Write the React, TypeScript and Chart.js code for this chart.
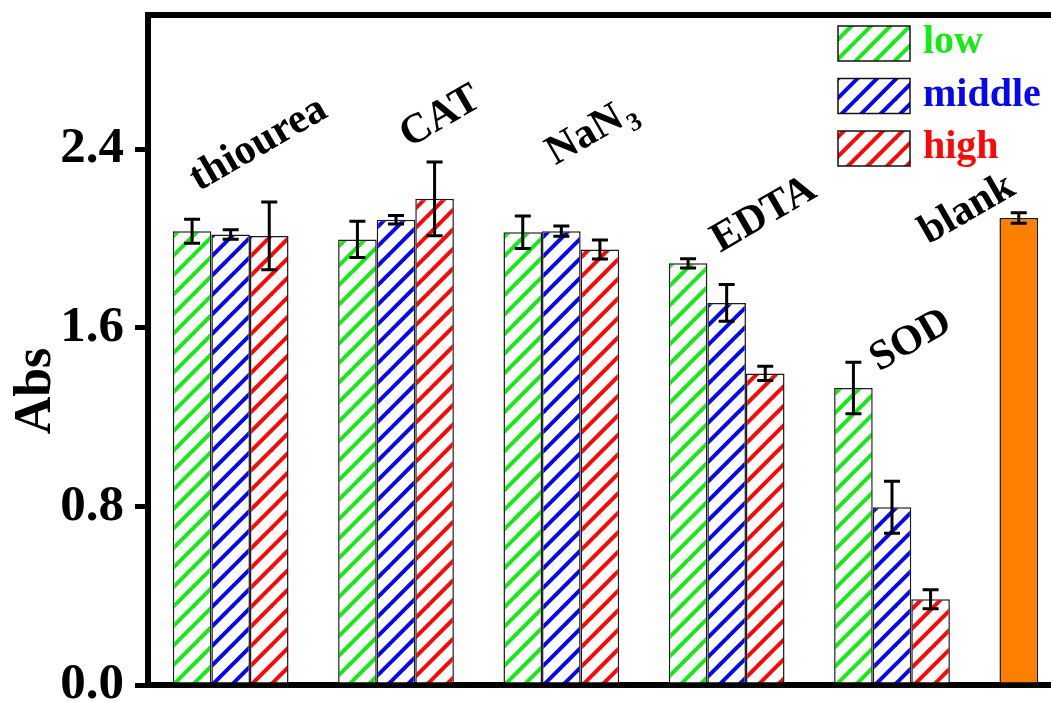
import React, { useEffect, useRef } from 'react';
import { Chart, registerables } from 'chart.js';

Chart.register(...registerables);

// Treatments (scavengers) and the untreated blank
const categories = ['thiourea', 'CAT', 'NaN3', 'EDTA', 'SOD', 'blank'];
const seriesNames = ['low', 'middle', 'high'];

// Absorbance per scavenger dose level, with standard deviations
const lowValues = [2.032, 1.995, 2.027, 1.888, 1.33];
const lowErrors = [0.054, 0.081, 0.073, 0.021, 0.115];
const middleValues = [2.017, 2.083, 2.032, 1.711, 0.796];
const middleErrors = [0.021, 0.019, 0.023, 0.082, 0.116];
const highValues = [2.011, 2.177, 1.95, 1.395, 0.384];
const highErrors = [0.152, 0.165, 0.042, 0.032, 0.043];
const blankValue = 2.091;
const blankError = 0.023;

const yTicks = [0, 0.8, 1.6, 2.4];
const yMax = 3.0;

// Where each rotated treatment name starts: offset from category centre (px), height in Abs units
const labelAnchors = [
  { dx: -32, y: 2.21 },
  { dx: 13, y: 2.405 },
  { dx: -6, y: 2.326 },
  { dx: -6.5, y: 1.936 },
  { dx: -13, y: 1.403 },
  { dx: -129, y: 1.972 },
];

const seriesColors = ['#14ea14', '#0606f0', '#ff0606'];
const blankColor = '#ff8000';
const FONT = '"Liberation Serif", "Times New Roman", serif';

function makeHatch(color: string): CanvasPattern | string {
  const T = 39;
  const period = 19.5;
  const c = document.createElement('canvas');
  c.width = T;
  c.height = T;
  const g = c.getContext('2d');
  if (!g) return color;
  g.fillStyle = '#ffffff';
  g.fillRect(0, 0, T, T);
  g.strokeStyle = color;
  g.lineWidth = 4;
  g.lineCap = 'butt';
  for (let k = -1; k <= 5; k++) {
    const cc = k * period;
    g.beginPath();
    g.moveTo(cc + 6, -6);
    g.lineTo(cc - T - 6, T + 6);
    g.stroke();
  }
  const p = g.createPattern(c, 'repeat');
  return p || color;
}

export default function App() {
  const canvasRef = useRef<HTMLCanvasElement | null>(null);

  useEffect(() => {
    const canvas = canvasRef.current;
    if (!canvas) return;

    const hatches = seriesColors.map((c) => makeHatch(c));
    const valueSets = [
      [...lowValues, blankValue],
      [...middleValues, null],
      [...highValues, null],
    ];
    const errorSets = [
      [...lowErrors, blankError],
      [...middleErrors, null],
      [...highErrors, null],
    ];

    const datasets = seriesNames.map((name, si) => ({
      label: name,
      data: valueSets[si],
      backgroundColor:
        si === 0
          ? categories.map((_, i) => (i === categories.length - 1 ? blankColor : hatches[0]))
          : hatches[si],
      borderColor: '#1a1a1a',
      borderWidth: 1.5,
      categoryPercentage: 0.7,
      barPercentage: 1.0,
    }));

    const errorBars = {
      id: 'errorBars',
      afterDatasetsDraw(chart: any) {
        const ctx = chart.ctx;
        const y = chart.scales.y;
        ctx.save();
        ctx.strokeStyle = '#000';
        ctx.lineWidth = 3;
        chart.data.datasets.forEach((_: any, di: number) => {
          const meta = chart.getDatasetMeta(di);
          meta.data.forEach((bar: any, i: number) => {
            const v = valueSets[di][i];
            const e = errorSets[di][i];
            if (v == null || e == null) return;
            const yTop = y.getPixelForValue(v + e);
            const yBot = y.getPixelForValue(v - e);
            const x = bar.x;
            const cap = 8;
            ctx.beginPath();
            ctx.moveTo(x, yTop);
            ctx.lineTo(x, yBot);
            ctx.moveTo(x - cap, yTop);
            ctx.lineTo(x + cap, yTop);
            ctx.moveTo(x - cap, yBot);
            ctx.lineTo(x + cap, yBot);
            ctx.stroke();
          });
        });
        ctx.restore();
      },
    };

    const decorations = {
      id: 'decorations',
      afterDraw(chart: any) {
        const ctx = chart.ctx;
        const area = chart.chartArea;
        const xs = chart.scales.x;
        const ys = chart.scales.y;
        ctx.save();

        // top frame line
        ctx.strokeStyle = '#000';
        ctx.lineWidth = 6;
        ctx.beginPath();
        ctx.moveTo(area.left - 3, area.top);
        ctx.lineTo(chart.width, area.top);
        ctx.stroke();

        // rotated treatment names
        ctx.fillStyle = '#000';
        ctx.textAlign = 'left';
        ctx.textBaseline = 'alphabetic';
        categories.forEach((name, i) => {
          const a = labelAnchors[i];
          const px = xs.getPixelForValue(i) + a.dx;
          const py = ys.getPixelForValue(a.y);
          ctx.save();
          ctx.translate(px, py);
          ctx.rotate(-Math.PI / 6);
          ctx.font = `bold 42px ${FONT}`;
          if (name === 'NaN3') {
            ctx.fillText('NaN', 0, 0);
            const w = ctx.measureText('NaN').width;
            ctx.font = `bold 26px ${FONT}`;
            ctx.fillText('3', w + 2, 10);
          } else {
            ctx.fillText(name, 0, 0);
          }
          ctx.restore();
        });

        // y-axis title
        ctx.save();
        ctx.translate(50, 391);
        ctx.rotate(-Math.PI / 2);
        ctx.textAlign = 'center';
        ctx.font = `bold 52px ${FONT}`;
        ctx.fillText('Abs', 0, 0);
        ctx.restore();

        // legend
        const lx = area.left + 690;
        const ly = area.top + 11;
        const rowGap = 52.5;
        const bw = 72;
        const bh = 35;
        seriesNames.forEach((name, si) => {
          const top = ly + si * rowGap;
          ctx.fillStyle = hatches[si];
          ctx.fillRect(lx, top, bw, bh);
          ctx.strokeStyle = '#111';
          ctx.lineWidth = 1.5;
          ctx.strokeRect(lx, top, bw, bh);
          ctx.fillStyle = seriesColors[si];
          ctx.font = `bold 40px ${FONT}`;
          ctx.textAlign = 'left';
          ctx.textBaseline = 'alphabetic';
          ctx.fillText(name, lx + 85, top + bh - 8);
        });

        ctx.restore();
      },
    };

    const chart = new Chart(canvas, {
      type: 'bar',
      data: { labels: categories, datasets: datasets as any },
      options: {
        animation: false,
        responsive: false,
        devicePixelRatio: 1,
        layout: { padding: { top: 15, right: 5, left: 0, bottom: 0 } },
        plugins: {
          legend: { display: false },
          tooltip: { enabled: false },
        },
        scales: {
          x: {
            type: 'category',
            offset: true,
            grid: { display: false },
            ticks: { display: false },
            border: { display: true, color: '#000', width: 6 },
            afterFit(scale: any) {
              scale.height = 17;
              scale.paddingLeft = 0;
              scale.paddingRight = 0;
            },
          },
          y: {
            min: 0,
            max: yMax,
            grid: {
              display: true,
              drawOnChartArea: false,
              drawTicks: true,
              tickLength: 13,
              tickWidth: 5,
              tickColor: '#000',
              color: '#000',
              lineWidth: 5,
            },
            border: { display: true, color: '#000', width: 6 },
            ticks: {
              padding: 11,
              color: '#000',
              font: { family: FONT, size: 51, weight: 'bold' },
              callback: (v: any) => Number(v).toFixed(1),
            },
            afterBuildTicks(scale: any) {
              scale.ticks = yTicks.map((v) => ({ value: v }));
            },
            afterFit(scale: any) {
              scale.width = 148;
              scale.paddingTop = 0;
              scale.paddingBottom = 0;
            },
          },
        },
      } as any,
      plugins: [errorBars, decorations],
    });

    return () => chart.destroy();
  }, []);

  return (
    <div
      style={{
        position: 'absolute',
        left: 0,
        top: 0,
        width: 1051,
        height: 702,
        overflow: 'hidden',
        background: '#fff',
      }}
    >
      <canvas ref={canvasRef} width={1145} height={702} style={{ display: 'block' }} />
    </div>
  );
}
